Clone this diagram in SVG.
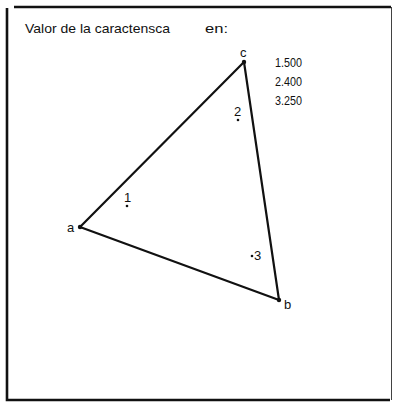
<svg xmlns="http://www.w3.org/2000/svg" width="393" height="403" viewBox="0 0 393 403">
<style>
text{font-family:"Liberation Sans","DejaVu Sans",sans-serif;font-size:13px;fill:#111}
.e{stroke:#111;stroke-width:2.2;fill:none;stroke-linecap:round}
.f{stroke:#111;stroke-width:2.6;fill:none}
</style>
<rect width="393" height="403" fill="#fff"/>
<g id="frame">
<path class="f" d="M7 8 V400 H390"/>
<path class="f" d="M14 7 H391"/>
<path stroke="#111" stroke-width="0.8" d="M391.5 7 V400"/>
</g>
<text id="title" x="25" y="33" font-size="14" textLength="145" lengthAdjust="spacingAndGlyphs">Valor de la caractensca</text>
<text x="205" y="33" font-size="14" textLength="23" lengthAdjust="spacingAndGlyphs">en:</text>
<g id="connectors">
<line class="e" x1="80" y1="227" x2="244" y2="62"/>
<line class="e" x1="244" y1="62" x2="279" y2="300"/>
<line class="e" x1="80" y1="227" x2="279" y2="300"/>
</g>
<g id="c"><circle cx="244" cy="62" r="2.2" fill="#111"/><text x="240" y="57" font-size="14">c</text></g>
<g id="a"><circle cx="80" cy="227" r="2.2" fill="#111"/><text x="67" y="232" font-size="14">a</text></g>
<g id="b"><circle cx="279" cy="300" r="2.2" fill="#111"/><text x="284" y="309" font-size="14">b</text></g>
<g id="p1"><circle cx="127" cy="206" r="1.3" fill="#111"/><text x="124" y="202" font-size="12">1</text></g>
<g id="p2"><circle cx="238" cy="120" r="1.3" fill="#111"/><text x="234" y="116" font-size="12">2</text></g>
<g id="p3"><circle cx="252" cy="256" r="1.3" fill="#111"/><text x="254" y="260" font-size="13">3</text></g>
<g id="values">
<text x="275" y="67" font-size="12" textLength="27" lengthAdjust="spacingAndGlyphs">1.500</text>
<text x="275" y="86" font-size="12" textLength="27" lengthAdjust="spacingAndGlyphs">2.400</text>
<text x="275" y="105" font-size="12" textLength="27" lengthAdjust="spacingAndGlyphs">3.250</text>
</g>
</svg>
